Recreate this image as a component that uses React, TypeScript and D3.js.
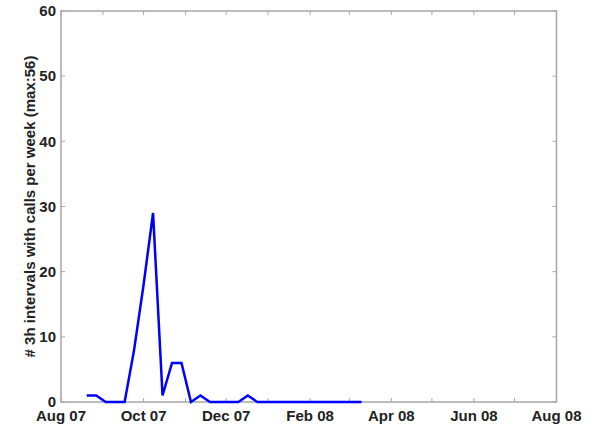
import React from "react";
import * as d3 from "d3";

const startDate = new Date(2007, 7, 20);
const weeklyCounts = [1, 1, 0, 0, 0, 8, 18, 29, 1, 6, 6, 0, 1, 0, 0, 0, 0, 1, 0, 0, 0, 0, 0, 0, 0, 0, 0, 0, 0, 0];
const yTicks = [0, 10, 20, 30, 40, 50, 60];
const xLabelMonths = [
  new Date(2007, 7, 1), new Date(2007, 9, 1), new Date(2007, 11, 1),
  new Date(2008, 1, 1), new Date(2008, 3, 1), new Date(2008, 5, 1), new Date(2008, 7, 1),
];
const yLabel = "# 3h intervals with calls per week (max:56)";

const W = 600, H = 429;
const m = { left: 61, right: 43.5, top: 11, bottom: 27 };

export default function App() {
  const x = d3.scaleTime()
    .domain([new Date(2007, 7, 1), new Date(2008, 7, 1)])
    .range([m.left, W - m.right]);
  const y = d3.scaleLinear().domain([0, 60]).range([H - m.bottom, m.top]);
  const data = weeklyCounts.map((v, i) => ({ d: d3.timeWeek.offset(startDate, i), v }));
  const line = d3.line<{ d: Date; v: number }>().x(p => x(p.d)).y(p => y(p.v));
  const monthTicks = d3.timeMonth.range(new Date(2007, 7, 1), new Date(2008, 7, 2));
  const fmt = d3.timeFormat("%b %y");
  const axisColor = "#a6a6a6";
  const tl = 4;
  const x0 = m.left, x1 = W - m.right, y0 = H - m.bottom, y1 = m.top;
  return (
    <svg width={W} height={H} style={{ position: "absolute", left: 0, top: 0, background: "#fff" }}
      fontFamily="'Liberation Sans', Arial, sans-serif" fontWeight="bold">
      <rect x={0} y={0} width={W} height={H} fill="#fff" />
      <rect x={x0} y={y1} width={x1 - x0} height={y0 - y1} fill="none" stroke={axisColor} strokeWidth={1.5} />
      {monthTicks.map((t, i) => (
        <g key={"xt" + i} stroke={axisColor} strokeWidth={1}>
          <line x1={x(t)} x2={x(t)} y1={y0} y2={y0 - tl} />
          <line x1={x(t)} x2={x(t)} y1={y1} y2={y1 + tl} />
        </g>
      ))}
      {yTicks.map((t, i) => (
        <g key={"yt" + i}>
          <line x1={x0} x2={x0 + tl} y1={y(t)} y2={y(t)} stroke={axisColor} />
          <line x1={x1} x2={x1 - tl} y1={y(t)} y2={y(t)} stroke={axisColor} />
          <text x={x0 - 5} y={y(t)} dy="0.35em" textAnchor="end" fontSize={15} fill="#222">{t}</text>
        </g>
      ))}
      {xLabelMonths.map((t, i) => (
        <text key={"xl" + i} x={x(t)} y={y0 + 19} textAnchor="middle" fontSize={15} fill="#222">{fmt(t)}</text>
      ))}
      <text transform={`translate(30,${(y0 + y1) / 2}) rotate(-90)`} textAnchor="middle" dy="0.35em" fontSize={15} fill="#222">{yLabel}</text>
      <path d={line(data) || ""} fill="none" stroke="#0000ff" strokeWidth={2.5} strokeLinejoin="miter" />
    </svg>
  );
}
